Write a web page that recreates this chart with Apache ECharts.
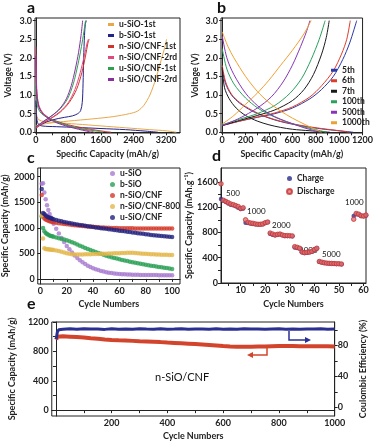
<!DOCTYPE html>
<html>
<head>
<meta charset="utf-8">
<script src="https://cdn.jsdelivr.net/npm/echarts@6/dist/echarts.min.js"></script>
<style>
  html, body { margin: 0; padding: 0; background: #fff; }
  #chart { width: 376px; height: 442px; }
</style>
</head>
<body>
<div id="chart"></div>
<script>
// ---- panel a : first / second cycle voltage profiles [capacity, voltage]
var aUSiO1Dis = [[0,0.68],[30,0.42],[80,0.33],[200,0.29],[500,0.26],[1000,0.22],[1600,0.17],[2200,0.12],[2800,0.07],[3200,0.04],[3450,0.0]];
var aUSiO1Chg = [[0,0.18],[300,0.24],[800,0.3],[1400,0.36],[1900,0.42],[2300,0.5],[2500,0.57],[2650,0.72],[2800,1.0],[2950,1.45],[3080,1.95],[3170,2.3],[3210,2.5]];
var aBSiO1Dis = [[0,0.85],[20,0.4],[60,0.22],[150,0.17],[500,0.15],[1000,0.13],[1600,0.1],[2200,0.07],[2700,0.03],[3000,0.0]];
var aBSiO1Chg = [[0,0.12],[150,0.22],[400,0.33],[700,0.4],[900,0.44],[1030,0.5],[1100,0.58],[1140,0.8],[1160,1.3],[1175,2.0],[1195,2.6],[1215,2.9],[1240,3.0]];
var aN1Dis = [[0,2.1],[10,1.4],[30,0.95],[70,0.7],[150,0.55],[300,0.4],[500,0.3],[800,0.2],[1100,0.13],[1400,0.07],[1700,0.02],[1850,0]];
var aN1Chg = [[0,0.1],[200,0.26],[400,0.39],[600,0.54],[820,0.8],[1000,1.15],[1130,1.6],[1220,2.05],[1280,2.4],[1310,2.5]];
var aN2Dis = [[0,2.3],[10,1.6],[30,1.05],[70,0.75],[150,0.55],[300,0.4],[500,0.28],[800,0.17],[1100,0.09],[1350,0.03],[1450,0]];
var aN2Chg = [[0,0.12],[200,0.27],[400,0.4],[600,0.56],[800,0.8],[960,1.15],[1090,1.6],[1190,2.05],[1260,2.4],[1290,2.5]];
var aU1Dis = [[0,1.25],[15,0.9],[40,0.7],[100,0.55],[200,0.45],[400,0.33],[600,0.25],[900,0.15],[1200,0.08],[1500,0.03],[1650,0]];
var aU1Chg = [[0,0.15],[200,0.3],[400,0.45],[600,0.63],[780,0.9],[920,1.3],[1030,1.8],[1120,2.3],[1180,2.7],[1220,3.0]];
var aU2Dis = [[0,2.05],[10,1.4],[30,0.95],[70,0.7],[150,0.52],[300,0.38],[500,0.26],[800,0.15],[1050,0.08],[1250,0.03],[1350,0]];
var aU2Chg = [[0,0.15],[200,0.3],[400,0.45],[600,0.65],[750,0.9],[870,1.25],[970,1.7],[1050,2.15],[1110,2.6],[1150,3.0]];

// ---- panel b : long cycling voltage profiles
var bDis5 = [[0,1.7],[30,1.3],[80,1.0],[150,0.78],[250,0.58],[350,0.44],[450,0.33],[550,0.25],[700,0.16],[850,0.09],[1000,0.04],[1120,0.0]];
var bChg5 = [[0,0.18],[150,0.3],[300,0.4],[450,0.5],[600,0.65],[750,0.9],[850,1.15],[950,1.5],[1030,1.95],[1090,2.4],[1150,3.0]];
var bDis6 = [[0,1.8],[30,1.35],[80,1.02],[150,0.8],[250,0.6],[350,0.45],[450,0.34],[550,0.26],[700,0.17],[850,0.1],[1000,0.04],[1090,0.0]];
var bChg6 = [[0,0.18],[150,0.3],[300,0.41],[450,0.52],[600,0.68],[750,0.95],[850,1.25],[950,1.65],[1020,2.1],[1065,2.5],[1095,3.0]];
var bDis7 = [[0,1.75],[20,1.2],[60,0.9],[120,0.65],[200,0.45],[300,0.3],[400,0.2],[500,0.13],[600,0.08],[750,0.04],[920,0.0]];
var bChg7 = [[0,0.18],[150,0.32],[300,0.45],[450,0.6],[600,0.85],[700,1.15],[780,1.55],[850,2.1],[890,2.55],[915,3.0]];
var bDis100 = [[0,2.25],[40,1.7],[100,1.3],[200,0.92],[300,0.66],[400,0.48],[500,0.34],[600,0.23],[700,0.14],[800,0.07],[890,0.0]];
var bChg100 = [[0,0.2],[150,0.35],[300,0.5],[450,0.72],[580,1.05],[680,1.45],[760,1.95],[830,2.5],[880,3.0]];
var bDis500 = [[0,2.6],[40,2.0],[100,1.55],[200,1.05],[300,0.72],[400,0.5],[500,0.35],[600,0.23],[700,0.12],[780,0.05],[840,0]];
var bChg500 = [[0,0.18],[150,0.38],[300,0.65],[420,0.95],[520,1.35],[600,1.8],[670,2.3],[720,2.7],[750,3.0]];
var bDis1000 = [[0,2.7],[50,2.3],[100,2.0],[200,1.5],[300,1.1],[400,0.8],[500,0.57],[600,0.38],[700,0.22],[780,0.1],[850,0.0]];
var bChg1000 = [[0,0.22],[100,0.45],[200,0.75],[300,1.05],[400,1.4],[500,1.8],[600,2.2],[700,2.65],[760,3.0]];

// ---- panel c : cycling capacity
var cCycles = [1,2,3,4,5,6,7,8,9,10,12,14,16,18,20,22,24,26,28,30,32,34,36,38,40,42,44,46,48,50,52,54,56,58,60,62,64,66,68,70,72,74,76,78,80,82,84,86,88,90,92,94,96,98,100];
var cUSiO = [1860,1870,1690,1560,1440,1350,1270,1200,1140,1080,980,890,800,720,645,580,515,460,410,365,325,290,258,232,210,190,172,156,143,132,122,114,107,101,96,92,89,86,84,82,80,79,78,77,76,75,75,74,74,73,73,72,72,71,71];
var cBSiO = [1220,995,930,900,880,865,850,840,832,825,810,796,783,770,757,738,718,696,673,650,628,605,586,566,546,527,508,490,472,455,440,425,411,397,384,372,360,348,337,326,316,306,296,286,277,268,259,251,243,235,227,219,211,203,195];
var cNCNF = [1640,1230,1180,1160,1150,1140,1130,1122,1115,1108,1098,1090,1082,1075,1068,1062,1056,1050,1045,1040,1035,1030,1026,1022,1018,1014,1011,1008,1005,1002,1000,998,996,994,992,991,990,990,989,989,988,988,987,987,986,986,986,985,985,985,985,984,984,984,984];
var cNCNF800 = [1240,790,600,585,580,578,575,572,568,565,555,545,530,515,500,490,482,478,476,476,478,480,482,484,485,487,488,490,492,494,496,498,500,502,504,506,508,510,512,510,506,502,498,494,490,487,484,481,478,476,474,472,470,469,468];
var cUCNF = [1760,1290,1270,1240,1220,1205,1195,1185,1175,1165,1150,1138,1126,1115,1105,1095,1085,1075,1066,1057,1048,1040,1032,1024,1016,1008,1000,993,986,979,972,965,958,951,944,937,930,923,916,909,902,895,888,881,874,867,860,854,848,842,837,832,828,824,820];

// ---- panel d : rate capability (current density mA/g in labels)
var dCycles = [2,3,4,5,6,7,8,9,10,11, 12,13,14,15,16,17,18,19,20,21, 22,23,24,25,26,27,28,29,30,31, 32,33,34,35,36,37,38,39,40,41, 42,43,44,45,46,47,48,49,50,51, 56,57,58,59,60,61];
var dCharge = [1330,1300,1280,1260,1240,1230,1215,1190,1170,1180, 955,950,940,935,928,925,925,930,950,960, 780,765,755,765,770,755,745,745,743,740, 560,555,545,485,475,480,485,495,525,545, 335,325,317,312,309,307,305,302,302,298, 1060,1090,1085,1060,1055,1070];
var dDischarge = [1570,1310,1290,1270,1250,1240,1225,1210,1180,1190, 1000,960,950,945,935,930,930,935,955,965, 790,775,760,770,775,760,750,750,748,745, 575,565,550,490,480,485,490,500,530,550, 340,330,320,315,312,310,308,305,305,300, 1010,1100,1090,1065,1060,1075];
var dRates = ['500','1000','2000','3000','5000','1000'];

// ---- panel e : long-term cycling of n-SiO/CNF
var eCycles = [1,5,10,25,50,75,100,125,150,175,200,225,250,275,300,325,350,375,400,425,450,475,500,525,550,575,600,625,650,675,700,725,750,775,800,825,850,875,900,925,950,975,1000];
var eCapacity = [960,1000,1010,1005,1000,995,990,980,972,962,955,950,947,943,938,934,930,926,920,915,910,905,900,895,888,880,872,866,862,862,864,866,868,870,872,873,872,871,870,870,869,869,868];
var eEfficiency = [88,97,100,100.8,101.2,100.6,101.4,100.9,101.1,100.5,101.3,100.8,101,100.6,101.2,100.9,100.7,101.3,100.8,101,101.4,100.6,101.1,100.9,100.7,101.2,100.8,101,100.6,101.3,100.9,101.1,100.7,101,101.2,100.8,101,100.6,101.1,100.9,101.2,100.8,101];

var FONT = 'Lato';
var INK = '#222';

function zip(xs, ys) {
  return xs.map(function (x, i) { return [x, ys[i]]; });
}

var plain = function (v) { return String(v); };
var one = function (v) { return v.toFixed(1); };

function xAxisFor(gi, min, max, labels, ticks, name, gap) {
  return {
    type: 'value', gridIndex: gi, min: min, max: max,
    name: name, nameLocation: 'middle', nameGap: gap,
    nameTextStyle: { color: INK, fontSize: 9, fontWeight: 'bold', fontFamily: FONT },
    axisLine: { lineStyle: { color: INK, width: 1 } },
    axisTick: { show: true, length: 3, customValues: ticks, lineStyle: { color: INK } },
    axisLabel: { customValues: labels, color: INK, fontSize: 9, fontWeight: 'bold', fontFamily: FONT, margin: 3, formatter: plain },
    splitLine: { show: false }
  };
}

function yAxisFor(gi, min, max, labels, ticks, name, gap, fmt) {
  return {
    type: 'value', gridIndex: gi, min: min, max: max,
    name: name, nameLocation: 'middle', nameGap: gap, nameRotate: 90,
    nameTextStyle: { color: INK, fontSize: 9, fontWeight: 'bold', fontFamily: FONT },
    axisLine: { lineStyle: { color: INK, width: 1 } },
    axisTick: { show: true, length: 3, customValues: ticks, lineStyle: { color: INK } },
    axisLabel: { customValues: labels, color: INK, fontSize: 9, fontWeight: 'bold', fontFamily: FONT, margin: 3, formatter: fmt || plain },
    splitLine: { show: false }
  };
}

function curve(name, color, data, ai) {
  return {
    type: 'line', name: name, xAxisIndex: ai, yAxisIndex: ai,
    data: data, showSymbol: false, smooth: 0.3, animation: false,
    lineStyle: { color: color, width: 1 }, itemStyle: { color: color }
  };
}

function dots(name, color, xs, ys, ai, size) {
  return {
    type: 'scatter', name: name, xAxisIndex: ai, yAxisIndex: ai,
    data: zip(xs, ys), symbol: 'circle', symbolSize: size, animation: false,
    itemStyle: { color: color }
  };
}

var aColors = ['#e8a84a', '#23238a', '#d0352b', '#e2487f', '#2fa052', '#8a2fa0'];
var aNames = ['u-SiO-1st', 'b-SiO-1st', 'n-SiO/CNF-1st', 'n-SiO/CNF-2rd', 'u-SiO/CNF-1st', 'u-SiO/CNF-2rd'];
var aData = [[aUSiO1Dis, aUSiO1Chg], [aBSiO1Dis, aBSiO1Chg], [aN1Dis, aN1Chg], [aN2Dis, aN2Chg], [aU1Dis, aU1Chg], [aU2Dis, aU2Chg]];

var bColors = ['#2a3aa8', '#e03c2a', '#1a1a1a', '#2aa05a', '#8a35b8', '#f0a030'];
var bNames = ['5th', '6th', '7th', '100th', '500th', '1000th'];
var bData = [[bDis5, bChg5], [bDis6, bChg6], [bDis7, bChg7], [bDis100, bChg100], [bDis500, bChg500], [bDis1000, bChg1000]];

var cColors = ['#a77bd0', '#2aa055', '#d43a2a', '#e3b64a', '#23237f'];
var cNames = ['u-SiO', 'b-SiO', 'n-SiO/CNF', 'n-SiO/CNF-800', 'u-SiO/CNF'];
var cData = [cUSiO, cBSiO, cNCNF, cNCNF800, cUCNF];

var series = [];
aNames.forEach(function (n, i) {
  series.push(curve(n, aColors[i], aData[i][0], 0));
  series.push(curve(n, aColors[i], aData[i][1], 0));
});
bNames.forEach(function (n, i) {
  series.push(curve(n, bColors[i], bData[i][0], 1));
  series.push(curve(n, bColors[i], bData[i][1], 1));
});
cNames.forEach(function (n, i) {
  series.push(dots(n, cColors[i], cCycles, cData[i], 2, 4.5));
});
series.push(dots('Charge', '#2a2a8c', dCycles, dCharge, 3, 4.5));
series.push({
  type: 'scatter', name: 'Discharge', xAxisIndex: 3, yAxisIndex: 3,
  data: zip(dCycles, dDischarge), symbol: 'circle', symbolSize: 4.5, animation: false,
  itemStyle: { color: '#e27272', borderColor: '#c43434', borderWidth: 1 }
});
series.push({
  type: 'line', name: 'Capacity', xAxisIndex: 4, yAxisIndex: 4,
  data: zip(eCycles, eCapacity), showSymbol: false, animation: false,
  lineStyle: { color: '#d2452c', width: 4 }
});
series.push({
  type: 'line', name: 'Coulombic Efficiency', xAxisIndex: 4, yAxisIndex: 5,
  data: zip(eCycles, eEfficiency), showSymbol: false, animation: false,
  lineStyle: { color: '#2b2f92', width: 3 }
});

function legendFor(names, left, top, icon, w, h, lh, gap) {
  return {
    data: names, orient: 'vertical', left: left, top: top, icon: icon,
    itemWidth: w, itemHeight: h, itemGap: gap, padding: 0,
    textStyle: { color: INK, fontSize: 8.5, fontWeight: 'bold', fontFamily: FONT, lineHeight: lh }
  };
}

function label(x, y, txt, size, weight) {
  return {
    type: 'text', left: x, top: y,
    style: { text: txt, fill: '#111', font: weight + ' ' + size + 'px ' + FONT }
  };
}

var option = {
  backgroundColor: '#fff',
  animation: false,
  grid: [
    { left: 35, top: 18, width: 145, height: 115, show: true, borderColor: INK, borderWidth: 1 },
    { left: 221, top: 18, width: 147, height: 115, show: true, borderColor: INK, borderWidth: 1 },
    { left: 34, top: 168, width: 146, height: 116, show: true, borderColor: INK, borderWidth: 1 },
    { left: 221, top: 168, width: 145, height: 115, show: true, borderColor: INK, borderWidth: 1 },
    { left: 38, top: 322, width: 305, height: 96, show: true, borderColor: INK, borderWidth: 1 }
  ],
  xAxis: [
    xAxisFor(0, -20, 3540, [0, 800, 1600, 2400, 3200], [0, 400, 800, 1200, 1600, 2000, 2400, 2800, 3200], 'Specific Capacity (mAh/g)', 17),
    xAxisFor(1, -10, 1200, [0, 200, 400, 600, 800, 1000, 1200], [0, 100, 200, 300, 400, 500, 600, 700, 800, 900, 1000, 1100, 1200], 'Specific Capacity (mAh/g)', 17),
    xAxisFor(2, -2, 106, [0, 20, 40, 60, 80, 100], [0, 10, 20, 30, 40, 50, 60, 70, 80, 90, 100], 'Cycle Numbers', 16),
    xAxisFor(3, 2, 61, [10, 20, 30, 40, 50, 60], [5, 10, 15, 20, 25, 30, 35, 40, 45, 50, 55, 60], 'Cycle Numbers', 17),
    xAxisFor(4, -15, 1000, [200, 400, 600, 800, 1000], [100, 200, 300, 400, 500, 600, 700, 800, 900, 1000], 'Cycle Numbers', 16)
  ],
  yAxis: [
    yAxisFor(0, -0.02, 3.07, [0, 0.5, 1, 1.5, 2, 2.5, 3], [0, 0.5, 1, 1.5, 2, 2.5, 3], 'Voltage (V)', 22, one),
    yAxisFor(1, -0.02, 3.07, [0, 0.5, 1, 1.5, 2, 2.5, 3], [0, 0.5, 1, 1.5, 2, 2.5, 3], 'Voltage (V)', 21, one),
    yAxisFor(2, -100, 2170, [0, 500, 1000, 1500, 2000], [0, 500, 1000, 1500, 2000], 'Specific Capacity (mAh/g)', 26),
    yAxisFor(3, 0, 1820, [0, 400, 800, 1200, 1600], [0, 200, 400, 600, 800, 1000, 1200, 1400, 1600], 'Specific Capacity (mAh.g\u207B\u00B9)', 27),
    yAxisFor(4, -80, 1200, [0, 400, 800, 1200], [0, 200, 400, 600, 800, 1000, 1200], 'Specific Capacity (mAh/g)', 27),
    Object.assign(yAxisFor(4, -11, 110, [0, 40, 80], [0, 20, 40, 60, 80, 100], 'Coulombic Efficiency (%)', 20), { position: 'right' })
  ],
  legend: [
    legendFor(aNames, 108, 19, 'rect', 6, 3, 11, 0),
    legendFor(bNames, 331, 65, 'rect', 6, 3, 10.5, 0),
    legendFor(cNames, 110, 168, 'circle', 5, 5, 11, 0),
    legendFor(['Charge', 'Discharge'], 286, 173, 'circle', 5, 5, 11, 2)
  ],
  graphic: [
    label(27, 0, 'a', 16, 'bold'),
    label(217, 0, 'b', 16, 'bold'),
    label(27, 150, 'c', 16, 'bold'),
    label(212, 148, 'd', 16, 'bold'),
    label(27, 296, 'e', 16, 'bold'),
    label(226, 189, dRates[0], 8, 'normal'),
    label(247, 207, dRates[1], 8, 'normal'),
    label(272, 221, dRates[2], 8, 'normal'),
    label(299, 246, dRates[3], 8, 'normal'),
    label(322, 250, dRates[4], 8, 'normal'),
    label(345, 198, dRates[5], 8, 'normal'),
    label(155, 372, 'n-SiO/CNF', 11, 'normal'),
    { type: 'polyline', shape: { points: [[289, 331], [289, 340], [306, 340]] }, style: { stroke: '#2b2f92', lineWidth: 1.5, fill: null } },
    { type: 'polygon', shape: { points: [[305, 337], [311, 340], [305, 343]] }, style: { fill: '#2b2f92' } },
    { type: 'polyline', shape: { points: [[267, 346], [267, 355], [252, 355]] }, style: { stroke: '#d2452c', lineWidth: 1.5, fill: null } },
    { type: 'polygon', shape: { points: [[253, 352], [247, 355], [253, 358]] }, style: { fill: '#d2452c' } }
  ],
  series: series
};

var chart = echarts.init(document.getElementById('chart'), null, { renderer: 'canvas' });
chart.setOption(option);
</script>
</body>
</html>
